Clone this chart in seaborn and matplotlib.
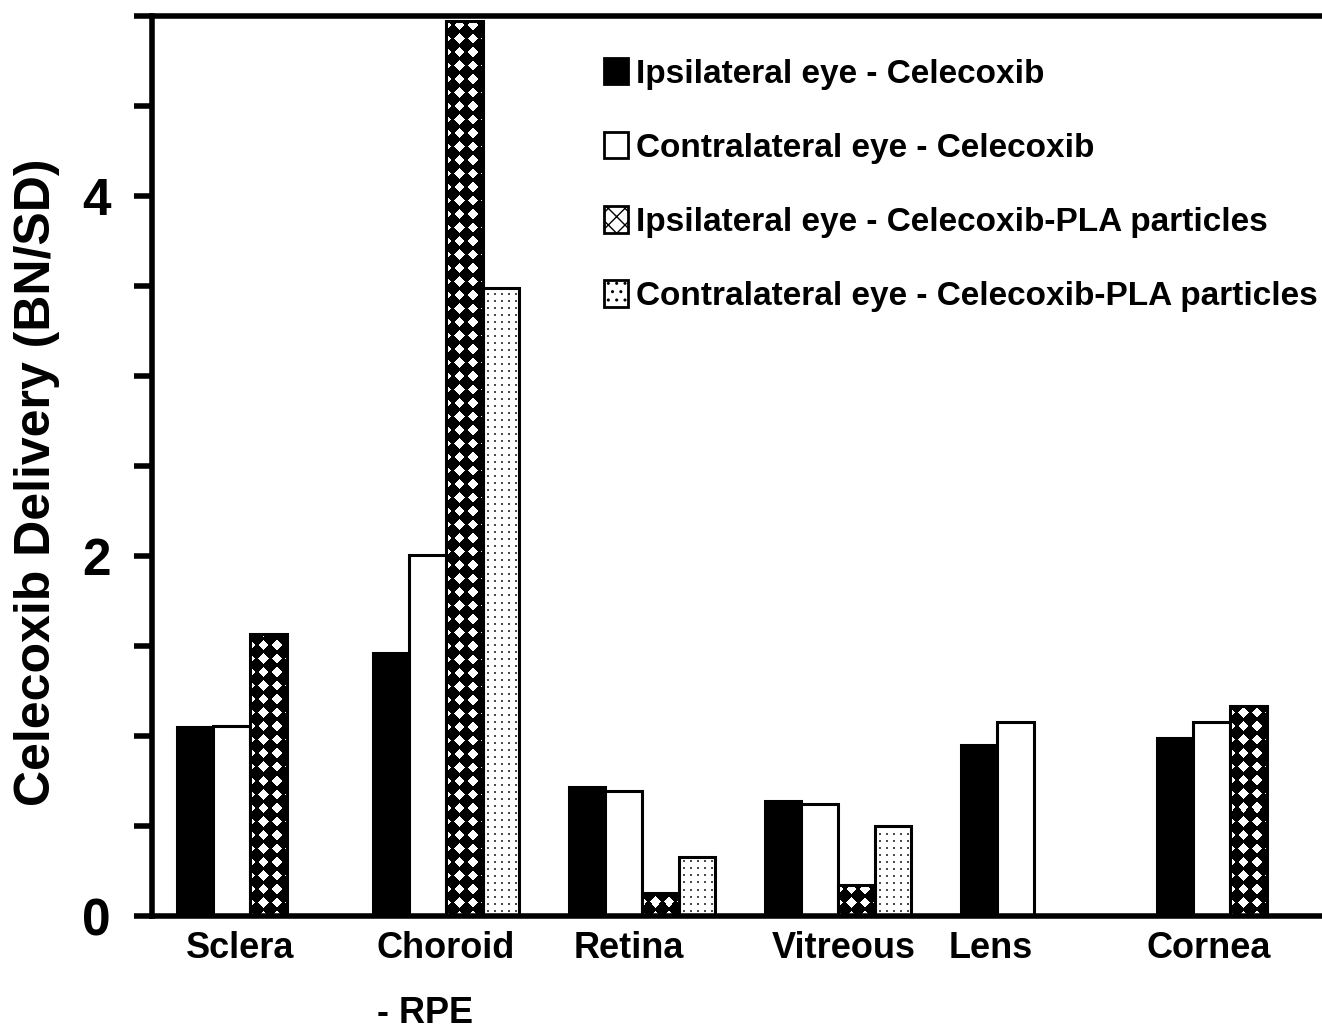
import numpy as np
import pandas as pd
import matplotlib
matplotlib.use("Agg")
import matplotlib.pyplot as plt
from matplotlib.patches import Patch
import seaborn as sns

# ---------------- data ----------------
tissues = ["Sclera", "Choroid\n\n- RPE", "Retina", "Vitreous", "Lens", "Cornea"]
series = ["Ipsilateral eye - Celecoxib",
          "Contralateral eye - Celecoxib",
          "Ipsilateral eye - Celecoxib-PLA particles",
          "Contralateral eye - Celecoxib-PLA particles"]
ipsi_celecoxib = [1.05, 1.46, 0.717, 0.639, 0.95, 0.989]
contra_celecoxib = [1.056, 2.006, 0.694, 0.622, 1.078, 1.078]
ipsi_pla = [1.567, 4.97, 0.128, 0.172, np.nan, 1.167]
contra_pla = [np.nan, 3.49, 0.328, 0.50, np.nan, np.nan]
y_ticks = [0, 0.5, 1, 1.5, 2, 2.5, 3, 3.5, 4, 4.5, 5]
y_tick_labels = ["0", "", "", "", "2", "", "", "", "4", "", ""]

# layout-only: small horizontal shifts of category labels (in category units)
label_shift = [-0.05, 0.0, -0.065, 0.03, -0.22, -0.11]

# ---------------- style ----------------
sns.set_theme(style="ticks")
FAM = ["Liberation Sans", "DejaVu Sans"]
plt.rcParams["font.family"] = FAM
plt.rcParams["font.weight"] = "bold"
for k in ["text.color", "axes.labelcolor", "xtick.color", "ytick.color",
          "axes.edgecolor"]:
    plt.rcParams[k] = "black"

df = pd.DataFrame({"tissue": tissues,
                   series[0]: ipsi_celecoxib,
                   series[1]: contra_celecoxib,
                   series[2]: ipsi_pla,
                   series[3]: contra_pla})
long = df.melt(id_vars="tissue", var_name="series", value_name="value").dropna()

W, H = 1322, 1029
fig = plt.figure(figsize=(W / 100, H / 100), dpi=100)
ax = fig.add_axes([152 / W, 113 / H, 1176 / W, 900 / H])

sns.barplot(data=long, x="tissue", y="value", hue="series",
            order=tissues, hue_order=series,
            palette=["black", "white", "white", "white"], saturation=1,
            width=0.745, edgecolor="black", linewidth=2.2,
            errorbar=None, legend=False, ax=ax)

ax.set_xlim(-0.5, 5.5)
ax.set_ylim(0, 5)
ax.set_autoscale_on(False)

# ---------------- textures ----------------
def checker(w, h):
    s = 13.5
    xx = np.arange(w)[None, :] + 0.5
    yy = np.arange(h)[:, None] + 0.5
    dx = ((xx + s / 2) % s) - s / 2
    dy = ((yy + s / 2) % s) - s / 2
    white = (np.abs(dx) + np.abs(dy)) < 5.3
    return np.where(white, 1.0, 0.0)


def dots(w, h):
    s = 7.0
    xx = np.arange(w)[None, :]
    yy = np.arange(h)[:, None]
    d = ((xx + 3) % s < 2) & ((yy + 3) % s < 2)
    return np.where(d, 0.3, 1.0)


def texture_bars(container, func):
    for bar in container:
        bx, by = bar.get_x(), bar.get_y()
        bw, bh = bar.get_width(), bar.get_height()
        if not np.isfinite(bh) or bh <= 0:
            continue
        (x0, y0), (x1, y1) = ax.transData.transform([(bx, by), (bx + bw, by + bh)])
        pw, ph = max(int(round(x1 - x0)), 1), max(int(round(y1 - y0)), 1)
        img = func(pw, ph)
        ax.imshow(img, cmap="gray", vmin=0, vmax=1, origin="lower",
                  extent=(bx, bx + bw, by, by + bh), aspect="auto",
                  interpolation="nearest", zorder=2)
        bar.set_facecolor("none")
        bar.set_zorder(3)


texture_bars(ax.containers[2], checker)
texture_bars(ax.containers[3], dots)
ax.set_xlim(-0.5, 5.5)
ax.set_ylim(0, 5)

# ---------------- axes styling ----------------
for side in ["left", "top", "bottom"]:
    ax.spines[side].set_linewidth(4)
    ax.spines[side].set_color("black")
ax.spines["right"].set_visible(False)

ax.set_yticks(y_ticks)
ax.set_yticklabels(y_tick_labels, fontsize=37, fontweight="bold")
ax.tick_params(axis="y", length=13, width=4, pad=17, color="black")

ax.set_xticks(np.arange(len(tissues)) + np.array(label_shift))
ax.set_xticklabels(tissues, fontsize=26, fontweight="bold")
for t in ax.get_xticklabels():
    t.set_multialignment("left")
    t.set_linespacing(0.9)
    t.set_va("top")
ax.tick_params(axis="x", length=0, pad=11)

ax.set_xlabel("")
ax.set_ylabel("Celecoxib Delivery (BN/SD)", fontsize=36, fontweight="bold")
ax.yaxis.set_label_coords(-0.078, 0.482)

# ---------------- legend ----------------
handles = [Patch(facecolor="black", edgecolor="black", linewidth=2),
           Patch(facecolor="white", edgecolor="black", linewidth=2),
           Patch(facecolor="white", edgecolor="black", linewidth=2, hatch="xx"),
           Patch(facecolor="white", edgecolor="black", linewidth=2, hatch="..")]
leg = ax.legend(handles, series, loc="upper left",
                bbox_to_anchor=(604 / W, 1 - 58 / H), bbox_transform=fig.transFigure,
                frameon=False, borderpad=0, borderaxespad=0,
                handlelength=0.72, handleheight=0.84, handletextpad=0.24,
                labelspacing=1.27,
                prop={"family": FAM, "weight": "bold", "size": 24})

fig.savefig("out.png", dpi=100)
